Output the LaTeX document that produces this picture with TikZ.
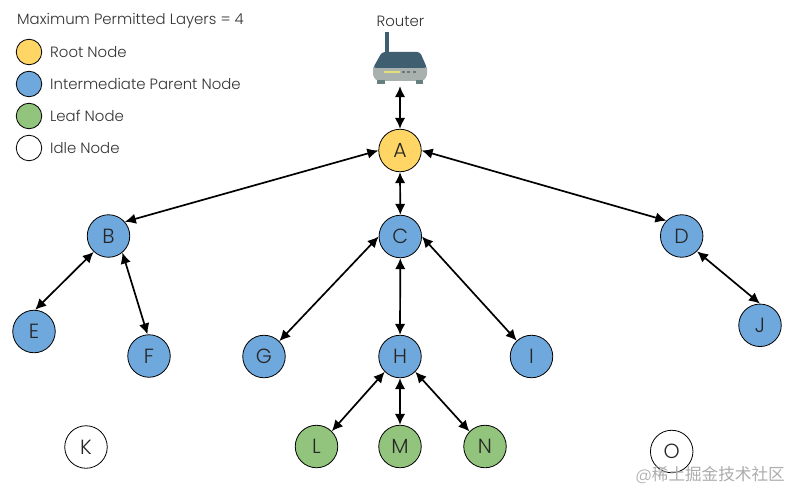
\documentclass[tikz,border=0pt]{standalone}
\usepackage{fontspec}
\setmainfont{Poppins Light}[Scale=1]
\newfontfamily\cjk{Noto Sans CJK SC}
\usetikzlibrary{arrows.meta}
\definecolor{rootc}{HTML}{FFD666}
\definecolor{parentc}{HTML}{6FA8DC}
\definecolor{leafc}{HTML}{93C47D}
\definecolor{rbody}{HTML}{3F5F70}
\definecolor{rsilver}{HTML}{A9B1AF}
\definecolor{rfoot}{HTML}{64807F}
\definecolor{rlamp}{HTML}{E3DF78}
\definecolor{rdot}{HTML}{6E7878}
\tikzset{
  nd/.style={circle,draw=black,line width=0.8pt,minimum size=42.5pt,inner sep=0pt,font=\fontsize{20.5}{22}\selectfont,text=black!85},
  root/.style={nd,fill=rootc},
  parent/.style={nd,fill=parentc},
  leaf/.style={nd,fill=leafc},
  idle/.style={nd,fill=white},
  lg/.style={circle,draw=black,line width=0.8pt,minimum size=25.5pt,inner sep=0pt},
  lt/.style={anchor=west,inner sep=0pt,font=\fontsize{14.9}{17}\selectfont,text=black!80},
  link/.style={{Latex[length=11pt,width=10.5pt]}-{Latex[length=11pt,width=10.5pt]},line width=1.7pt,black},
}
\begin{document}
\begin{tikzpicture}[x=1pt,y=-1pt]
\useasboundingbox (0,0) rectangle (800,500);
\fill[white] (0,0) rectangle (800,500);
% legend
\node[lt] (title) at (17,21) {Maximum Permitted Layers = 4};
\node[lg,fill=rootc] (l1) at (29,52) {};
\node[lg,fill=parentc] (l2) at (29,84) {};
\node[lg,fill=leafc] (l3) at (29,116) {};
\node[lg,fill=white] (l4) at (29,148) {};
\node[lt] (t1) at (50,52) {Root Node};
\node[lt] (t2) at (50,84) {Intermediate Parent Node};
\node[lt] (t3) at (50,116) {Leaf Node};
\node[lt] (t4) at (50,148) {Idle Node};
% router
\node[lt,anchor=center] (rlabel) at (400.5,21) {Router};
\fill[rbody] (385,32) rectangle (388.5,54);
\fill[rsilver,rounded corners=1.5pt] (373,66) -- (427,66) -- (427,76) -- (423,81) -- (377,81) -- (373,76) -- cycle;
\fill[rbody,rounded corners=3pt] (382,52) -- (420,52) -- (427,68) -- (373,68) -- cycle;
\fill[rfoot] (377,80.5) rectangle (385,84);
\fill[rfoot] (416,80.5) rectangle (423,84);
\fill[rlamp] (384,71) rectangle (400,73);
\fill[rdot] (402,71) rectangle (405,73);
\fill[rdot] (407,71) rectangle (410,73);
\fill[rdot] (413,71) rectangle (416,73);
\node[inner sep=0pt,minimum width=54pt,minimum height=2pt] (router) at (400,85) {};
% nodes
\node[root] (A) at (400,150.5) {A};
\node[parent] (B) at (108.5,236) {B};
\node[parent] (C) at (400.3,236.5) {C};
\node[parent] (D) at (681.7,236) {D};
\node[parent] (E) at (34,331.5) {E};
\node[parent] (F) at (149,356) {F};
\node[parent] (G) at (264,356.5) {G};
\node[parent] (H) at (400,356.5) {H};
\node[parent] (I) at (531.5,356.5) {I};
\node[parent] (J) at (760,325.3) {J};
\node[idle] (K) at (86,447) {K};
\node[leaf] (L) at (316.5,446.5) {L};
\node[leaf] (M) at (400,446.5) {M};
\node[leaf] (N) at (485,446.5) {N};
\node[idle] (O) at (671.7,451.5) {O};
% connectors
\draw[link] (router.south) -- (A.north);
\draw[link] (A.west) -- (B.41);
\draw[link] (A.south) -- (C.north);
\draw[link] (A.east) -- (D.135);
\draw[link] (B.227) -- (E.87);
\draw[link] (B.310) -- (F.94);
\draw[link] (C.west) -- (G.45);
\draw[link] (C.south) -- (H.north);
\draw[link] (C.east) -- (I.133);
\draw[link] (D.315) -- (J.north);
\draw[link] (H.225) -- (L.45);
\draw[link] (H.south) -- (M.north);
\draw[link] (H.315) -- (N.136);
% watermark
\node[inner sep=0pt,text=gray!65,font=\fontsize{16.6}{18}\selectfont] (wm) at (710,475) {@{\cjk 稀土掘金技术社区}};
\end{tikzpicture}
\end{document}
